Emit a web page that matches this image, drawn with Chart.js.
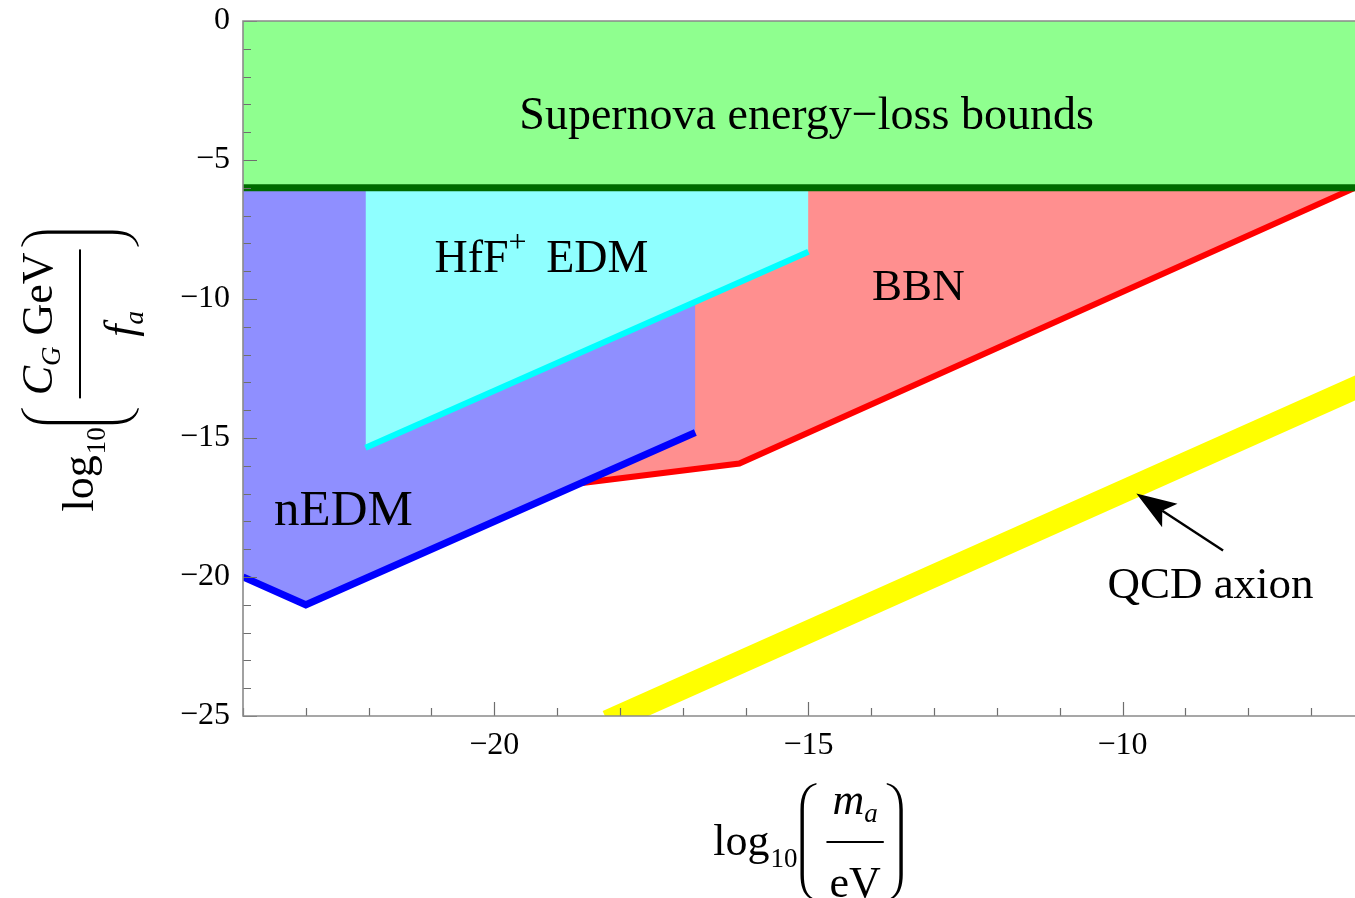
<!DOCTYPE html>
<html>
<head>
<meta charset="utf-8">
<script src="https://cdn.jsdelivr.net/npm/chart.js@4.4.1/dist/chart.umd.min.js"></script>
<style>
html,body{margin:0;padding:0;background:#ffffff;}
#wrap{width:1355px;height:898px;position:relative;}
</style>
</head>
<body>
<div id="wrap"><canvas id="c"></canvas></div>
<script>
// ---------- data ----------
const xRange = [-24, -6.3];
const yRange = [-25, 0];
const xTickLabels = [-20, -15, -10];
const yTickLabels = [0, -5, -10, -15, -20, -25];
const xMinorTicks = [-24,-23,-22,-21,-20,-19,-18,-17,-16,-15,-14,-13,-12,-11,-10,-9,-8,-7];
const yMinorTicks = [0,-1,-2,-3,-4,-5,-6,-7,-8,-9,-10,-11,-12,-13,-14,-15,-16,-17,-18,-19,-20,-21,-22,-23,-24,-25];

const supernovaX = [-24, -6.3];
const supernovaY = [-6, -6];
const hffX = [-22.05, -15];
const hffY = [-15.35, -8.3];
const nedmX = [-24, -23, -16.8];
const nedmY = [-20, -21, -14.8];
const bbnX = [-18.6, -16.1, -6.3];
const bbnY = [-16.62, -15.92, -6.0];
const qcdX = [-18.2, -6.0];
const qcdY = [-25.2, -12.9];

const labelTexts = ['Supernova energy\u2212loss bounds', 'BBN', 'nEDM', 'QCD axion'];
const labelSizes = [46, 45, 51, 45];
const labelX = [-15.03, -13.25, -22.4, -8.6];
const labelY = [-3.9, -10.05, -18.14, -20.77];
const hffLabel = {x: -19.25, y: -9.04};
const arrowTail = {x: -8.4, y: -19.05};
const arrowTip = {x: -9.78, y: -17.0};

const zip = (xs, ys) => xs.map((v, i) => ({x: v, y: ys[i]}));
const SERIF = '"Liberation Serif", "Times New Roman", Times, serif';
const font = (size, italic) => (italic ? 'italic ' : '') + size + 'px ' + SERIF;
const minus = v => (v < 0 ? '\u2212' + Math.abs(v) : String(v));

// ---------- helpers ----------
function measureParts(ctx, parts) {
  let w = 0;
  parts.forEach(p => { ctx.font = font(p.size, p.italic); p.w = ctx.measureText(p.t).width; w += p.w + (p.gap || 0); });
  return w;
}
function drawParts(ctx, parts, x, y) {
  let cx = x;
  parts.forEach(p => {
    ctx.font = font(p.size, p.italic);
    ctx.fillText(p.t, cx, y + (p.dy || 0));
    cx += p.w + (p.gap || 0);
  });
}
function drawParen(ctx, u0, vc, w, hh, closing) {
  ctx.save();
  if (closing) { ctx.translate(u0 + w, 0); ctx.scale(-1, 1); }
  else { ctx.translate(u0, 0); }
  const t = 3.4, top = vc - hh, bot = vc + hh;
  ctx.beginPath();
  ctx.moveTo(w, top);
  ctx.bezierCurveTo(w * 0.3, top + hh * 0.04, 0, top + hh * 0.2, 0, top + hh * 0.45);
  ctx.lineTo(0, bot - hh * 0.45);
  ctx.bezierCurveTo(0, bot - hh * 0.2, w * 0.3, bot - hh * 0.04, w, bot);
  ctx.lineTo(w, bot - 1.4);
  ctx.bezierCurveTo(w * 0.3 + t * 0.6, bot - hh * 0.07, t, bot - hh * 0.21, t, bot - hh * 0.45);
  ctx.lineTo(t, top + hh * 0.45);
  ctx.bezierCurveTo(t, top + hh * 0.21, w * 0.3 + t * 0.6, top + hh * 0.07, w, top + 1.4);
  ctx.closePath();
  ctx.fill();
  ctx.restore();
}
function drawMathTitle(ctx, cx, cy, rotate, num, den) {
  ctx.save();
  ctx.translate(cx, cy);
  if (rotate) ctx.rotate(-Math.PI / 2);
  ctx.fillStyle = '#000';
  ctx.textAlign = 'left';
  ctx.textBaseline = 'alphabetic';
  const F = 44, S = 27;
  ctx.font = font(F, false); const wLog = ctx.measureText('log').width;
  ctx.font = font(S, false); const w10 = ctx.measureText('10').width;
  const wNum = measureParts(ctx, num), wDen = measureParts(ctx, den);
  const barLen = Math.max(wNum, wDen) + 6;
  const parW = 16, hh = 59, barV = -13;
  const total = wLog + 1 + w10 + 3 + parW + 10 + barLen + 3 + parW;
  let u = -total / 2;
  ctx.font = font(F, false); ctx.fillText('log', u, 0); u += wLog + 1;
  ctx.font = font(S, false); ctx.fillText('10', u, 12); u += w10 + 3;
  drawParen(ctx, u, barV, parW, hh, false); u += parW + 10;
  ctx.fillRect(u, barV - 1, barLen, 2);
  drawParts(ctx, num, u + (barLen - wNum) / 2, -41);
  drawParts(ctx, den, u + (barLen - wDen) / 2, 42);
  u += barLen + 3;
  drawParen(ctx, u, barV, parW, hh, true);
  ctx.restore();
}

// ---------- plugins ----------
const framePlugin = {
  id: 'frameTicks',
  afterDatasetsDraw(chart) {
    const {ctx, chartArea: a, scales: {x, y}} = chart;
    ctx.save();
    ctx.strokeStyle = '#6e6e6e';
    ctx.lineWidth = 1.2;
    ctx.beginPath();
    xMinorTicks.forEach(v => {
      const px = Math.round(x.getPixelForValue(v)) + 0.5;
      const len = xTickLabels.includes(v) ? 14 : 8;
      ctx.moveTo(px, a.bottom); ctx.lineTo(px, a.bottom - len);
    });
    yMinorTicks.forEach(v => {
      const py = Math.round(y.getPixelForValue(v)) + 0.5;
      const len = yTickLabels.includes(v) ? 14 : 8;
      ctx.moveTo(a.left, py); ctx.lineTo(a.left + len, py);
    });
    ctx.stroke();
    ctx.strokeStyle = '#8a8a8a';
    ctx.lineWidth = 1.6;
    ctx.beginPath();
    ctx.moveTo(a.right, a.top); ctx.lineTo(a.left, a.top);
    ctx.lineTo(a.left, a.bottom); ctx.lineTo(a.right, a.bottom);
    ctx.stroke();
    ctx.restore();
  },
  afterDraw(chart) {
    const {ctx, scales: {x, y}} = chart;
    ctx.save();
    ctx.fillStyle = '#000';
    ctx.textBaseline = 'alphabetic';
    ctx.textAlign = 'center';
    labelTexts.forEach((t, i) => {
      ctx.font = font(labelSizes[i], false);
      ctx.fillText(t, x.getPixelForValue(labelX[i]), y.getPixelForValue(labelY[i]));
    });
    ctx.textAlign = 'left';
    const hp = [
      {t: 'HfF', size: 46},
      {t: '+', size: 32, dy: -20, gap: 8},
      {t: ' EDM', size: 46}
    ];
    const hw = measureParts(ctx, hp);
    drawParts(ctx, hp, x.getPixelForValue(hffLabel.x) - hw / 2, y.getPixelForValue(hffLabel.y));
    // arrow
    const tx = x.getPixelForValue(arrowTip.x), ty = y.getPixelForValue(arrowTip.y);
    const sx = x.getPixelForValue(arrowTail.x), sy = y.getPixelForValue(arrowTail.y);
    const ang = Math.atan2(ty - sy, tx - sx);
    const L = 40, Hw = 14, notch = 9;
    const ca = Math.cos(ang), sa = Math.sin(ang);
    ctx.strokeStyle = '#000'; ctx.lineWidth = 2.4;
    ctx.beginPath(); ctx.moveTo(sx, sy); ctx.lineTo(tx - ca * (L - notch), ty - sa * (L - notch)); ctx.stroke();
    ctx.beginPath();
    ctx.moveTo(tx, ty);
    ctx.lineTo(tx - ca * L - sa * Hw, ty - sa * L + ca * Hw);
    ctx.lineTo(tx - ca * (L - notch), ty - sa * (L - notch));
    ctx.lineTo(tx - ca * L + sa * Hw, ty - sa * L - ca * Hw);
    ctx.closePath(); ctx.fill();
    // axis titles
    drawMathTitle(ctx, 808, 855, false,
      [{t: 'm', size: 44, italic: true}, {t: 'a', size: 27, italic: true, dy: 8}],
      [{t: 'eV', size: 44}]);
    drawMathTitle(ctx, 93, 371, true,
      [{t: 'C', size: 44, italic: true}, {t: 'G', size: 27, italic: true, dy: 8}, {t: ' GeV', size: 44}],
      [{t: 'f', size: 44, italic: true}, {t: 'a', size: 27, italic: true, dy: 8}]);
    ctx.restore();
  }
};

// ---------- chart ----------
const common = {showLine: true, pointRadius: 0, pointHoverRadius: 0, tension: 0, clip: 0,
  borderCapStyle: 'butt', borderJoinStyle: 'miter'};

new Chart(document.getElementById('c'), {
  type: 'scatter',
  data: {
    datasets: [
      Object.assign({label: 'Supernova bound', data: zip(supernovaX, supernovaY),
        borderColor: '#006a00', borderWidth: 7, fill: false}, common),
      Object.assign({label: 'Supernova energy-loss bounds', data: zip(supernovaX, supernovaY),
        borderColor: 'rgba(0,0,0,0)', borderWidth: 0, fill: 'end',
        backgroundColor: 'rgb(143,255,143)'}, common),
      Object.assign({label: 'HfF+ EDM', data: zip(hffX, hffY),
        borderColor: '#00ffff', borderWidth: 6, fill: {value: -6},
        backgroundColor: 'rgb(143,255,255)'}, common),
      Object.assign({label: 'nEDM', data: zip(nedmX, nedmY),
        borderColor: '#0000ff', borderWidth: 7, fill: {value: -6},
        backgroundColor: 'rgb(143,143,255)'}, common),
      Object.assign({label: 'BBN', data: zip(bbnX, bbnY),
        borderColor: '#ff0000', borderWidth: 6, fill: {value: -6},
        backgroundColor: 'rgb(255,143,143)'}, common),
      Object.assign({label: 'QCD axion', data: zip(qcdX, qcdY),
        borderColor: '#ffff00', borderWidth: 23, fill: false}, common)
    ]
  },
  options: {
    responsive: true,
    maintainAspectRatio: false,
    animation: false,
    events: [],
    layout: {padding: {top: 21, right: 0, left: 0, bottom: 0}},
    plugins: {legend: {display: false}, tooltip: {enabled: false}},
    scales: {
      x: {
        type: 'linear', position: 'bottom', min: xRange[0], max: xRange[1],
        grid: {display: false, drawTicks: false}, border: {display: false},
        afterBuildTicks: s => { s.ticks = xTickLabels.map(v => ({value: v})); },
        afterFit: s => { s.height = 182; s.paddingLeft = 0; s.paddingRight = 0; },
        ticks: {font: {family: SERIF, size: 32}, color: '#000', padding: 10, maxRotation: 0,
          autoSkip: false, callback: v => minus(v)}
      },
      y: {
        type: 'linear', position: 'left', min: yRange[0], max: yRange[1],
        grid: {display: false, drawTicks: false}, border: {display: false},
        afterBuildTicks: s => { s.ticks = yTickLabels.map(v => ({value: v})); },
        afterFit: s => { s.width = 243; s.paddingTop = 0; s.paddingBottom = 0; },
        ticks: {font: {family: SERIF, size: 32}, color: '#000', padding: 13,
          autoSkip: false, callback: v => minus(v)}
      }
    }
  },
  plugins: [framePlugin]
});
</script>
</body>
</html>
